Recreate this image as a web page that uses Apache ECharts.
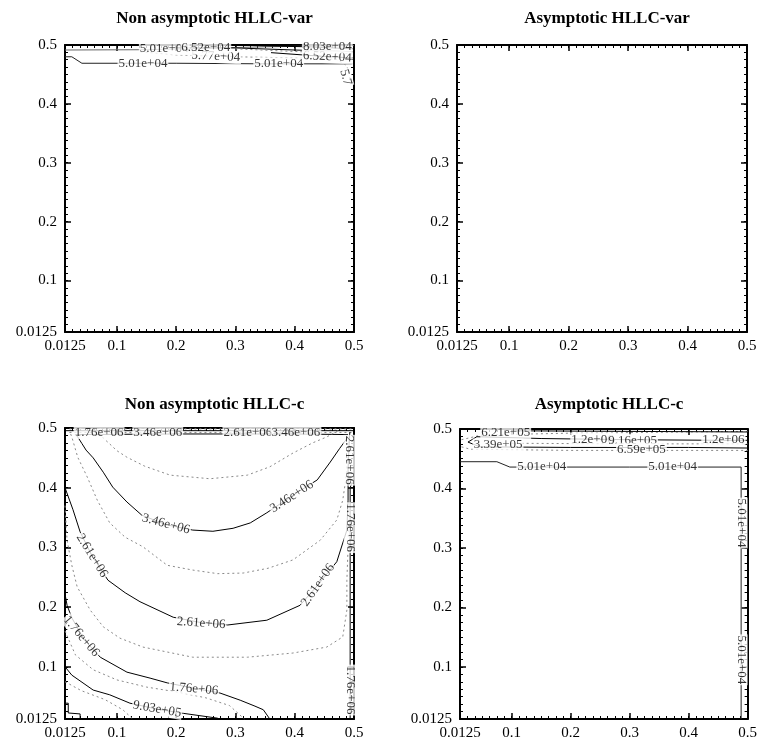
<!DOCTYPE html>
<html>
<head>
<meta charset="utf-8">
<script src="https://cdn.jsdelivr.net/npm/echarts@6/dist/echarts.min.js"></script>
<style>html,body{margin:0;padding:0;background:#fff}#c{width:760px;height:752px}</style>
</head>
<body>
<div id="c"></div>
<script>
// ---------- DATA ----------
const titles = ['Non asymptotic HLLC-var', 'Asymptotic HLLC-var', 'Non asymptotic HLLC-c', 'Asymptotic HLLC-c'];
const tickLabels = [0.0125, 0.1, 0.2, 0.3, 0.4, 0.5];
const majorTicks = [0.1, 0.2, 0.3, 0.4];
const axisMin = 0.0125, axisMax = 0.5, minorStep = 0.0125;

// Panel 1: Non asymptotic HLLC-var  (contour paths as [x, y])
const nv501Low = [[0.0125,0.480],[0.024,0.480],[0.041,0.469],[0.20,0.469],[0.35,0.468],[0.497,0.468]];
const nv501Up = [[0.0125,0.4915],[0.147,0.492],[0.25,0.4945],[0.35,0.497],[0.5,0.499]];
const nv577 = [[0.14,0.4885],[0.20,0.483],[0.30,0.480],[0.40,0.478],[0.47,0.476],[0.488,0.465],[0.494,0.44]];
const nv652a = [[0.19,0.4955],[0.30,0.495],[0.40,0.4915],[0.50,0.4885]];
const nv652b = [[0.36,0.487],[0.45,0.4805],[0.50,0.478]];
const nv803 = [[0.33,0.499],[0.42,0.497],[0.50,0.4935]];
const nvDot = [[0.30,0.4935],[0.40,0.489],[0.5,0.485]];
const nvLabels = [['5.01e+04',0.144,0.468],['5.01e+04',0.373,0.468],['5.01e+04',0.180,0.4935],['5.77e+04',0.267,0.4805],['6.52e+04',0.25,0.495],['6.52e+04',0.455,0.480],['8.03e+04',0.455,0.4965],['5.7',0.486,0.445]];
const nvAngles = [0,0,0,-3,0,-3,0,-75];

// Panel 3: Non asymptotic HLLC-c
const c346 = [[0.030,0.489],[0.034,0.485],[0.041,0.474],[0.048,0.463],[0.060,0.450],[0.077,0.426],[0.093,0.401],[0.117,0.376],[0.142,0.354],[0.183,0.338],[0.228,0.329],[0.262,0.327],[0.296,0.332],[0.325,0.341],[0.353,0.358],[0.395,0.386],[0.438,0.413],[0.460,0.443],[0.476,0.466],[0.490,0.485]];
const cTop346 = [[0.030,0.489],[0.20,0.490],[0.40,0.490],[0.490,0.489]];
const cTopA = [[0.0125,0.4955],[0.5,0.4955]];
const cTopDot1 = [[0.02,0.4925],[0.5,0.4925]];
const cTopDot2 = [[0.02,0.4985],[0.5,0.4985]];
const cD4 = [[0.072,0.492],[0.077,0.483],[0.085,0.476],[0.100,0.462],[0.117,0.451],[0.147,0.436],[0.190,0.421],[0.257,0.415],[0.320,0.421],[0.358,0.435],[0.397,0.458],[0.430,0.475],[0.454,0.485],[0.476,0.497]];
const cD3 = [[0.022,0.49],[0.024,0.485],[0.034,0.451],[0.050,0.418],[0.067,0.379],[0.088,0.341],[0.114,0.317],[0.144,0.301],[0.185,0.27],[0.228,0.262],[0.27,0.256],[0.313,0.257],[0.355,0.265],[0.397,0.279],[0.443,0.312],[0.471,0.346],[0.481,0.379],[0.486,0.413],[0.490,0.455],[0.493,0.490]];
const c261 = [[0.0125,0.40],[0.014,0.399],[0.026,0.363],[0.038,0.326],[0.058,0.286],[0.085,0.245],[0.114,0.224],[0.139,0.209],[0.195,0.183],[0.242,0.174],[0.287,0.170],[0.353,0.178],[0.409,0.203],[0.439,0.237],[0.471,0.276],[0.488,0.329],[0.490,0.379],[0.490,0.430],[0.492,0.480],[0.493,0.493]];
const cDmid = [[0.0125,0.37],[0.016,0.312],[0.024,0.27],[0.033,0.234],[0.055,0.195],[0.077,0.167],[0.105,0.148],[0.144,0.133],[0.228,0.116],[0.320,0.116],[0.397,0.123],[0.454,0.133],[0.481,0.150],[0.488,0.195],[0.488,0.245],[0.490,0.30],[0.491,0.36]];
const c176 = [[0.0125,0.222],[0.016,0.203],[0.024,0.182],[0.045,0.145],[0.072,0.116],[0.117,0.091],[0.156,0.081],[0.185,0.073],[0.230,0.064],[0.274,0.056],[0.308,0.044],[0.333,0.034],[0.347,0.028],[0.358,0.0125]];
const c176r = [[0.4935,0.0125],[0.4935,0.25],[0.4935,0.40],[0.497,0.41]];
const cDlow1 = [[0.0125,0.16],[0.03,0.12],[0.06,0.095],[0.10,0.078],[0.15,0.066],[0.2,0.058],[0.25,0.048],[0.29,0.035],[0.315,0.0125]];
const c903 = [[0.0125,0.100],[0.024,0.086],[0.060,0.061],[0.088,0.053],[0.122,0.039],[0.168,0.029],[0.212,0.022],[0.269,0.014],[0.274,0.0125]];
const cDlow2 = [[0.0125,0.075],[0.04,0.06],[0.08,0.045],[0.11,0.028],[0.127,0.0125]];
const cCorner = [[0.0125,0.039],[0.018,0.039],[0.018,0.0226],[0.038,0.021],[0.038,0.0125]];
const cLabels = [['3.46e+06',0.183,0.339],['3.46e+06',0.395,0.385],['1.76e+06',0.07,0.4925],['3.46e+06',0.169,0.4925],['2.61e+06',0.321,0.4925],['3.46e+06',0.402,0.4925],
  ['2.61e+06',0.058,0.286],['2.61e+06',0.242,0.173],['2.61e+06',0.439,0.237],['2.61e+06',0.493,0.446],
  ['1.76e+06',0.040,0.151],['1.76e+06',0.230,0.063],['1.76e+06',0.4935,0.333],['1.76e+06',0.4935,0.061],['9.03e+05',0.168,0.029]];
const cAngles = [-15,33,0,0,0,0,-58,-4,55,-90,-50,-5,-90,-90,-10];

// Panel 4: Asymptotic HLLC-c
const a501 = [[0.0125,0.445],[0.075,0.445],[0.097,0.436],[0.30,0.436],[0.489,0.436],[0.489,0.0125]];
const aA = [[0.041,0.487],[0.026,0.478],[0.046,0.470],[0.20,0.469],[0.40,0.469],[0.50,0.468]];
const aB = [[0.041,0.487],[0.15,0.484],[0.30,0.482],[0.45,0.481],[0.50,0.481]];
const aF = [[0.10,0.497],[0.3,0.496],[0.5,0.495]];
const aDotC = [[0.015,0.482],[0.05,0.490],[0.20,0.493],[0.40,0.495],[0.50,0.496]];
const aDotD = [[0.015,0.470],[0.03,0.466],[0.20,0.464],[0.40,0.464],[0.50,0.464]];
const aDotE = [[0.10,0.476],[0.3,0.475],[0.5,0.475]];
const aLabels = [['5.01e+04',0.151,0.436],['5.01e+04',0.373,0.436],['5.01e+04',0.489,0.342],['5.01e+04',0.489,0.112],
  ['6.21e+05',0.09,0.494],['1.2e+06',0.237,0.483],['9.16e+05',0.305,0.481],['3.39e+05',0.077,0.473],['6.59e+05',0.320,0.466],['1.2e+06',0.459,0.4815]];
const aAngles = [0,0,-90,-90,0,0,0,0,0,0];

// ---------- LAYOUT / STYLE ----------
const grids = [
  {left:65, top:45, width:289, height:287},
  {left:457, top:45, width:290, height:287},
  {left:65, top:428, width:289, height:291},
  {left:460, top:429, width:288, height:290}
];
const FONT = 'Liberation Serif';
const fmt = v => (Math.abs(v - 0.0125) < 1e-9 ? '0.0125' : String(+v.toFixed(4)));

const xAxes = [], yAxes = [];
grids.forEach((g, gi) => {
  ['bottom','top'].forEach(pos => {
    const main = pos === 'bottom';
    xAxes.push({gridIndex:gi, type:'value', min:axisMin, max:axisMax, position:pos,
      axisLine:{show:true, onZero:false, lineStyle:{color:'#000', width:2}},
      axisTick:{show:true, inside:true, length:6, customValues:majorTicks, lineStyle:{color:'#000', width:1.5}},
      axisLabel:{show:main, customValues:tickLabels, formatter:fmt, fontFamily:FONT, fontSize:15, color:'#000', margin:7, showMinLabel:true, showMaxLabel:true},
      splitLine:{show:false}});
    xAxes.push({gridIndex:gi, type:'value', min:axisMin, max:axisMax, interval:minorStep, position:pos,
      axisLine:{show:false, onZero:false}, axisTick:{show:true, inside:true, length:3, lineStyle:{color:'#000', width:1}},
      axisLabel:{show:false}, splitLine:{show:false}});
  });
  ['left','right'].forEach(pos => {
    const main = pos === 'left';
    yAxes.push({gridIndex:gi, type:'value', min:axisMin, max:axisMax, position:pos,
      axisLine:{show:true, onZero:false, lineStyle:{color:'#000', width:2}},
      axisTick:{show:true, inside:true, length:6, customValues:majorTicks, lineStyle:{color:'#000', width:1.5}},
      axisLabel:{show:main, customValues:tickLabels, formatter:fmt, fontFamily:FONT, fontSize:15, color:'#000', margin:8, showMinLabel:true, showMaxLabel:true},
      splitLine:{show:false}});
    yAxes.push({gridIndex:gi, type:'value', min:axisMin, max:axisMax, interval:minorStep, position:pos,
      axisLine:{show:false, onZero:false}, axisTick:{show:true, inside:true, length:3, lineStyle:{color:'#000', width:1}},
      axisLabel:{show:false}, splitLine:{show:false}});
  });
});

const series = [];
function line(gi, data, dotted, color) {
  series.push({type:'line', xAxisIndex:gi*4, yAxisIndex:gi*4, data:data, showSymbol:false, symbol:'none',
    silent:true, animation:false, z:2,
    lineStyle:{color: color || (dotted ? '#8a8a8a' : '#000'), width:1, type: dotted ? [2,3] : 'solid'}});
}
function labels(gi, items, angles) {
  series.push({type:'scatter', xAxisIndex:gi*4, yAxisIndex:gi*4, symbolSize:0, silent:true, animation:false, z:5,
    data: items.map((it, i) => ({value:[it[1], it[2]], name:it[0], label:{rotate:angles[i]}})),
    label:{show:true, position:'inside', formatter:p => p.name, fontFamily:FONT, fontSize:13, color:'#000',
      backgroundColor:'#fff', padding:[0,1,0,1], lineHeight:13}});
}

// panel 1
line(0, nv501Low, false, '#222');
line(0, nv501Up, false, '#666');
line(0, nv577, true);
line(0, nv652a, false);
line(0, nv652b, false);
line(0, nv803, false);
line(0, nvDot, true);
labels(0, nvLabels, nvAngles);

// panel 3
line(2, cTopDot1, true); line(2, cTopDot2, true);
line(2, cTopA, false); line(2, cTop346, false);
line(2, c346, false); line(2, cD4, true); line(2, cD3, true);
line(2, c261, false); line(2, cDmid, true);
line(2, c176, false); line(2, c176r, false);
line(2, cDlow1, true); line(2, c903, false); line(2, cDlow2, true);
line(2, cCorner, false);
labels(2, cLabels, cAngles);

// panel 4
line(3, a501, false, '#222');
line(3, aDotC, true); line(3, aDotD, true); line(3, aDotE, true);
line(3, aA, false); line(3, aB, false); line(3, aF, false);
labels(3, aLabels, aAngles);

const titleCenters = [[209.5, 5], [602, 5], [209.5, 391], [604, 391]];
const option = {
  animation:false,
  backgroundColor:'#fff',
  title: titles.map((t, i) => ({text:t, left:titleCenters[i][0], top:titleCenters[i][1], textAlign:'center',
    textStyle:{fontFamily:FONT, fontWeight:'bold', fontSize:17, color:'#000'}})),
  grid: grids.map(g => Object.assign({containLabel:false}, g)),
  xAxis: xAxes, yAxis: yAxes, series: series
};
const chart = echarts.init(document.getElementById('c'), null, {renderer:'canvas'});
chart.setOption(option);
</script>
</body>
</html>
